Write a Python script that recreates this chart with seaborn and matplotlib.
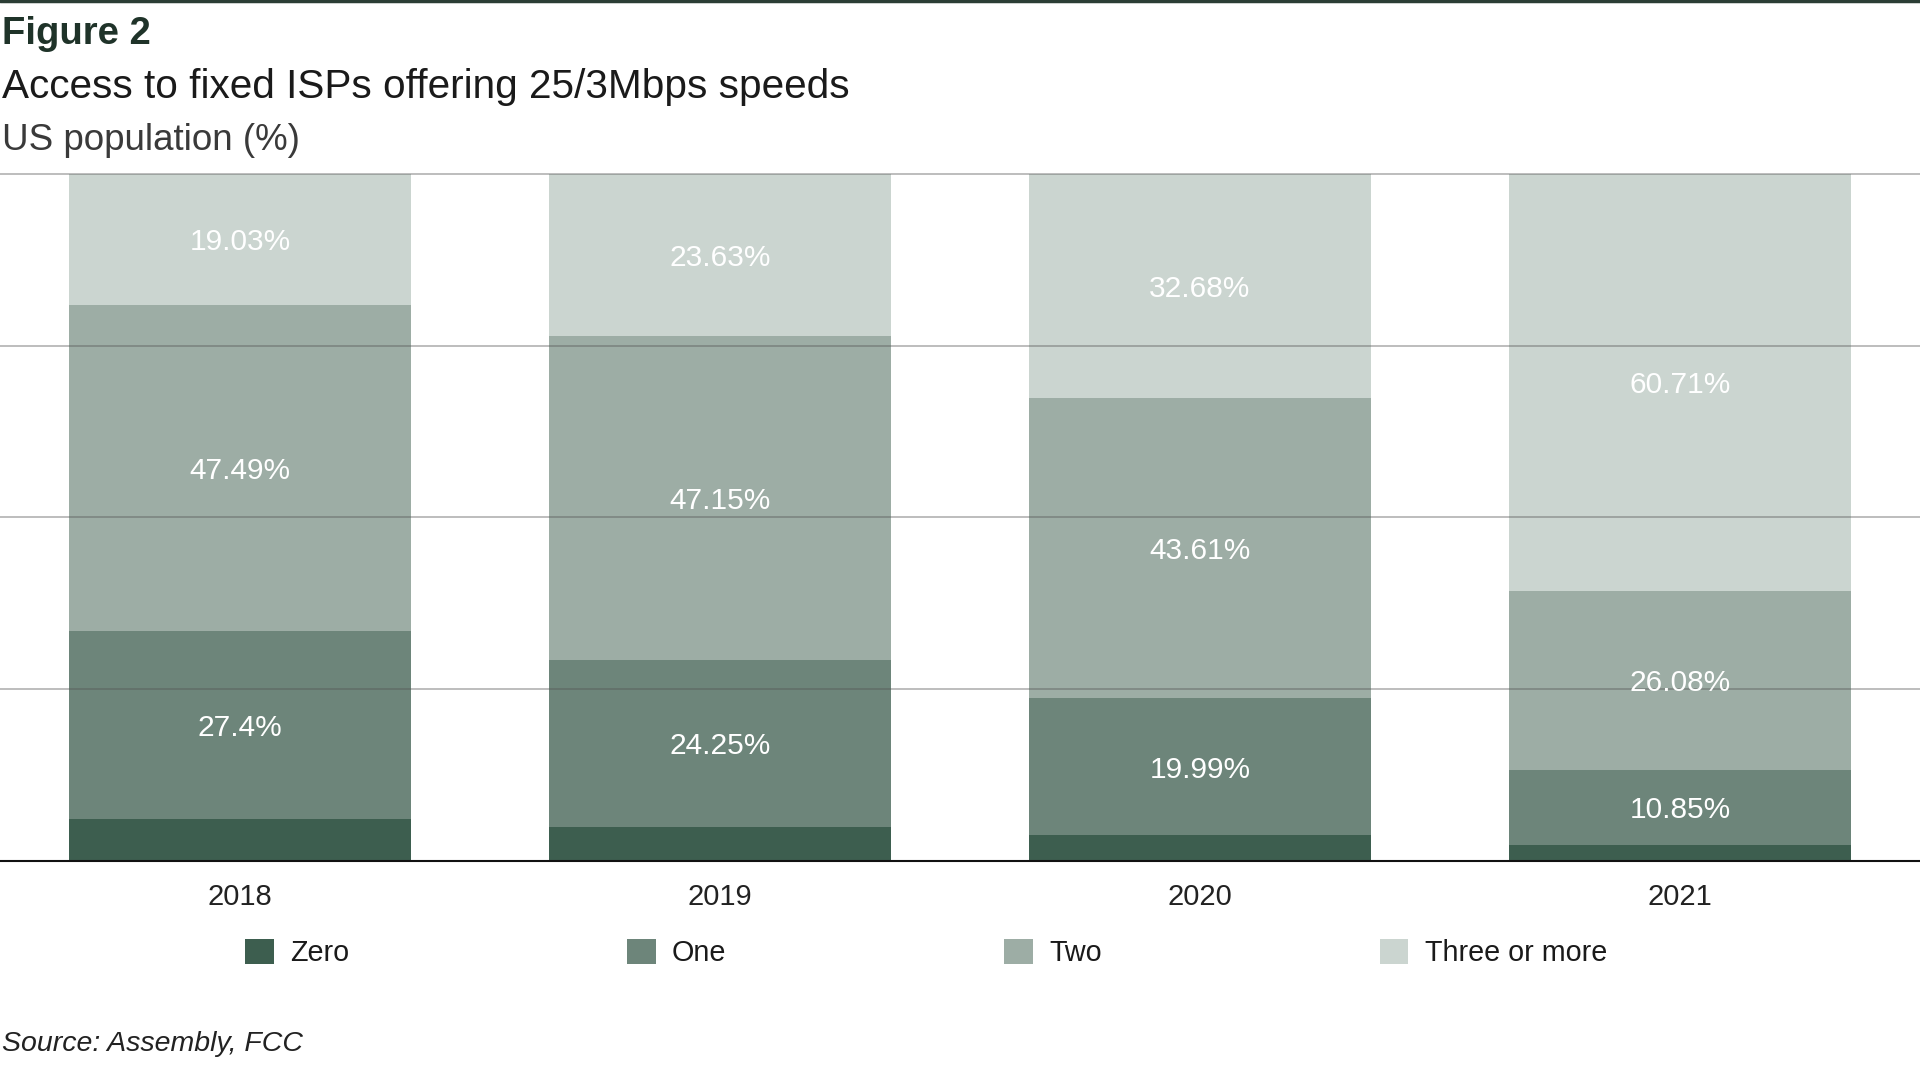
import numpy as np
import pandas as pd
import matplotlib
matplotlib.use('Agg')
import matplotlib.pyplot as plt
import seaborn as sns
from matplotlib.patches import Patch
from matplotlib.lines import Line2D

# Data
years = ['2018', '2019', '2020', '2021']
categories = ['Zero', 'One', 'Two', 'Three or more']
zero = [6.08, 4.97, 3.72, 2.36]
one = [27.4, 24.25, 19.99, 10.85]
two = [47.49, 47.15, 43.61, 26.08]
three_plus = [19.03, 23.63, 32.68, 60.71]
label_one = ['27.4%', '24.25%', '19.99%', '10.85%']
label_two = ['47.49%', '47.15%', '43.61%', '26.08%']
label_three = ['19.03%', '23.63%', '32.68%', '60.71%']

colors = ['#3d5e4f', '#6d857a', '#9dada5', '#cbd5d0']

df = pd.DataFrame({'year': years, 'Zero': zero, 'One': one,
                   'Two': two, 'Three or more': three_plus})
layers = df[categories].cumsum(axis=1)

# Plot
sns.set_style('white')
plt.rcParams['font.family'] = ['Liberation Sans', 'DejaVu Sans']

fig = plt.figure(figsize=(19.2, 10.8), dpi=100)
ax = fig.add_axes([0, 0.203, 1, 0.636])

# stacked bars: draw cumulative totals from the top layer down
for cat, color in reversed(list(zip(categories, colors))):
    sns.barplot(x=df['year'], y=layers[cat], color=color, saturation=1,
                width=0.714, ax=ax, zorder=1, edgecolor='none', linewidth=0)

# segment labels
for i in range(len(years)):
    for lab, cat, prev in [(label_one, 'One', 'Zero'),
                           (label_two, 'Two', 'One'),
                           (label_three, 'Three or more', 'Two')]:
        mid = layers[prev][i] + df[cat][i] / 2
        ax.text(i, mid, lab[i], ha='center', va='center_baseline', color='white',
                fontsize=21.5, fontweight='medium', zorder=4)

ax.set_xlim(-0.5, 3.5)
ax.set_ylim(0, 100)
ax.set_yticks([25, 50, 75, 100])
ax.set_yticklabels([])
ax.yaxis.grid(True, color='#555555', alpha=0.42, lw=1.3, zorder=3)
ax.set_axisbelow(False)
for gl in ax.get_ygridlines():
    gl.set_clip_on(False)
for s in ['left', 'right', 'top']:
    ax.spines[s].set_visible(False)
ax.spines['bottom'].set_color('#111111')
ax.spines['bottom'].set_linewidth(1.5)
ax.spines['bottom'].set_zorder(5)
ax.tick_params(axis='x', length=0, pad=16, labelsize=21, labelcolor='#222222')
ax.tick_params(axis='y', length=0)
ax.set_xlabel('')
ax.set_ylabel('')

# legend
handles = [Patch(facecolor=c, edgecolor='none') for c in colors]
fig.legend(handles, categories, ncol=4, loc='center left',
           bbox_to_anchor=(245 / 1920, 1 - 953 / 1080), frameon=False,
           fontsize=20.7, handlelength=1.0, handleheight=1.0,
           handletextpad=0.56, columnspacing=9.67, borderpad=0,
           borderaxespad=0, labelcolor='#1a1a1a')

# titles
fig.text(0.001, 1 - 34 / 1080, 'Figure 2', fontsize=27.5, fontweight='bold',
         color='#1f3329', va='center', ha='left')
fig.text(0.001, 1 - 87 / 1080, 'Access to fixed ISPs offering 25/3Mbps speeds',
         fontsize=29.2, color='#1a1a1a', va='center', ha='left')
fig.text(0.001, 1 - 141 / 1080, 'US population (%)', fontsize=26.5,
         color='#3a3a3a', va='center', ha='left')
fig.text(0.001, 1 - 1044 / 1080, 'Source: Assembly, FCC', fontsize=20.5,
         style='italic', color='#222222', va='center', ha='left')

fig.add_artist(Line2D([0, 1], [0.999, 0.999], color='#2b3d35', lw=2.5,
                      transform=fig.transFigure))

plt.savefig('out.png', dpi=100)
